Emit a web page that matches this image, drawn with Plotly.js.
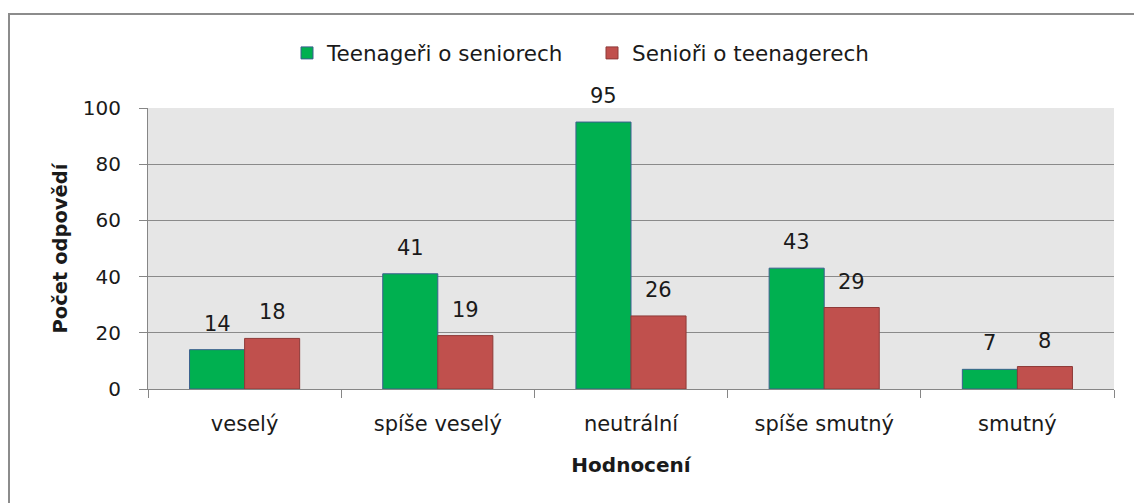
<!DOCTYPE html>
<html>
<head>
<meta charset="utf-8">
<script src="https://cdn.plot.ly/plotly-3.0.1.min.js"></script>
<style>html,body{margin:0;padding:0;background:#fff}#chart{width:1134px;height:503px}</style>
</head>
<body>
<div id="chart"></div>
<script>
const categories = ["veselý", "spíše veselý", "neutrální", "spíše smutný", "smutný"];
const teenSeniors = [14, 41, 95, 43, 7];
const seniorsTeen = [18, 19, 26, 29, 8];
const seriesNames = ["Teenageři o seniorech", "Senioři o teenagerech"];
const yTicks = [0, 20, 40, 60, 80, 100];

const FONT = "DejaVu Sans, sans-serif";
const TXT = "#1a1a1a";

const traces = [
  {type: "bar", name: seriesNames[0], x: categories, y: teenSeniors,
   marker: {color: "#00b050", line: {color: "#3b5f8f", width: 1}}},
  {type: "bar", name: seriesNames[1], x: categories, y: seniorsTeen,
   marker: {color: "#c0504d", line: {color: "#8e3a38", width: 1}}}
];

const W = 966, bargap = 0.43;
const barW = (W / categories.length) * (1 - bargap) / 2;
const annotations = [];
[teenSeniors, seniorsTeen].forEach((vals, si) => {
  vals.forEach((v, i) => {
    annotations.push({x: categories[i], y: v, xref: "x", yref: "y", text: String(v),
      showarrow: false, yanchor: "bottom", xshift: (si === 0 ? -1 : 1) * barW / 2, yshift: 12,
      font: {family: FONT, size: 21, color: TXT}});
  });
});

const layout = {
  width: 1134, height: 503,
  margin: {l: 148, r: 20, t: 108, b: 114},
  paper_bgcolor: "#ffffff", plot_bgcolor: "#e6e6e6",
  font: {family: FONT, size: 18, color: TXT},
  barmode: "group", bargap: bargap, bargroupgap: 0,
  showlegend: true,
  legend: {orientation: "h", x: (287 - 148) / 966, xanchor: "left", y: 1.196, yanchor: "middle",
    font: {family: FONT, size: 21.5, color: TXT}, bgcolor: "rgba(0,0,0,0)", itemwidth: 30,
    entrywidth: 260, entrywidthmode: "pixels"},
  xaxis: {type: "category", tickson: "boundaries", ticks: "outside", ticklen: 8, tickcolor: "#868686",
    showline: true, linecolor: "#868686", linewidth: 1, showgrid: false,
    tickfont: {family: FONT, size: 21, color: TXT}, ticklabelstandoff: 16,
    title: {text: "<b>Hodnocení</b>", font: {family: FONT, size: 20, color: TXT}, standoff: 22}},
  yaxis: {range: [0, 100], tickvals: yTicks, ticktext: yTicks.map(String), ticks: "outside", ticklen: 8,
    tickcolor: "#868686", showline: true, linecolor: "#868686", linewidth: 1,
    showgrid: true, gridcolor: "#8a8a8a", gridwidth: 1, zeroline: false,
    tickfont: {family: FONT, size: 20, color: TXT}, ticklabelstandoff: 14,
    title: {text: "<b>Počet odpovědí</b>", font: {family: FONT, size: 19.5, color: TXT}, standoff: 9}},
  annotations: annotations,
  shapes: [{type: "rect", xref: "paper", yref: "paper",
    x0: (9 - 148) / 966, x1: 1.1, y0: -0.6, y1: (389 - 14) / 281,
    line: {color: "#8c8c8c", width: 2}, fillcolor: "rgba(0,0,0,0)", layer: "below"}]
};

Plotly.newPlot("chart", traces, layout, {displayModeBar: false, staticPlot: true});
</script>
</body>
</html>
